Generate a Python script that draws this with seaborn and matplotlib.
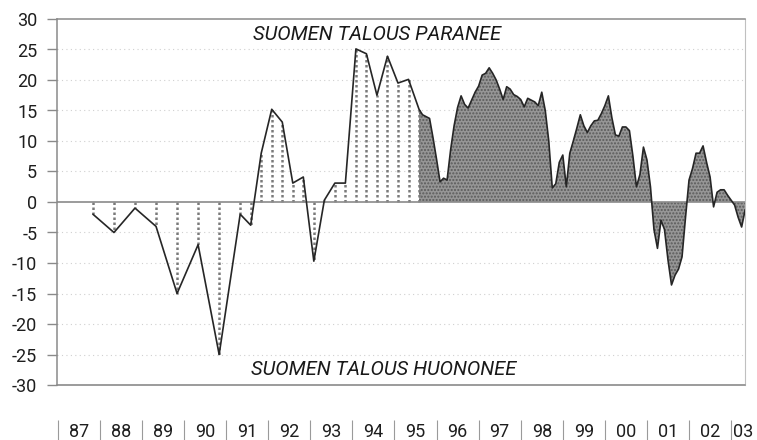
import numpy as np
import pandas as pd
import matplotlib
matplotlib.use("Agg")
import matplotlib.pyplot as plt
import seaborn as sns

# Survey months: semi-annual, then quarterly up to Aug 1995
sparse_months = [
    "1987-11", "1988-05", "1988-11", "1989-05", "1989-11", "1990-05", "1990-11",
    "1991-05", "1991-08", "1991-11", "1992-02", "1992-05", "1992-08", "1992-11",
    "1993-02", "1993-05", "1993-08", "1993-11", "1994-02", "1994-05", "1994-08",
    "1994-11", "1995-02", "1995-05", "1995-08",
]
sparse_values = [
    -2, -5, -1, -4, -15, -7, -25,
    -2, -3.8, 8, 15.2, 13.1, 3.1, 4.1,
    -9.7, 0.3, 3.1, 3.1, 25.1, 24.3, 17.5,
    23.9, 19.5, 20.1, 15.2,
]

# Monthly survey from Sep 1995 to May 2003
monthly_start = "1995-09"
monthly_values = [
    14.3, 14.0, 13.7, 10.5,
    7.0, 3.3, 3.9, 3.6, 8.5, 12.5, 15.5, 17.4, 16.0, 15.4, 16.7, 18.0,
    19.0, 20.8, 21.1, 22.0, 21.1, 20.0, 18.5, 16.8, 18.9, 18.5, 17.6, 17.3,
    16.8, 15.6, 17.0, 16.7, 16.4, 15.8, 18.0, 15.0, 10.0, 2.3, 3.0, 6.5,
    7.7, 2.5, 8.0, 10.0, 12.1, 14.3, 12.5, 11.4, 12.5, 13.3, 13.4, 14.5,
    15.8, 17.4, 13.8, 11.0, 10.8, 12.3, 12.3, 11.7, 7.5, 2.5, 4.5, 9.0,
    6.9, 2.5, -4.5, -7.6, -3.0, -4.5, -9.5, -13.6, -12.0, -11.0, -9.0, -2.5,
    3.6, 5.5, 8.0, 8.0, 9.2, 6.5, 4.1, -0.8, 1.6, 2.0, 2.0, 1.1,
    0.3, -0.5, -2.5, -4.1, -1.3,
]

year_labels = ["87", "88", "89", "90", "91", "92", "93", "94", "95",
               "96", "97", "98", "99", "00", "01", "02", "03"]
y_ticks = [30, 25, 20, 15, 10, 5, 0, -5, -10, -15, -20, -25, -30]


def to_decimal(dates):
    d = pd.to_datetime(pd.Series(dates))
    return (d.dt.year + (d.dt.month - 1) / 12).to_numpy()


t_sparse = to_decimal(sparse_months)
monthly_dates = pd.date_range(monthly_start, periods=len(monthly_values), freq="MS")
t_monthly = to_decimal(monthly_dates)

t_all = np.concatenate([t_sparse, t_monthly])
v_all = np.concatenate([sparse_values, monthly_values])

df = pd.DataFrame({"t": t_all, "v": v_all})

sns.set_style("white")
plt.rcParams["font.family"] = ["Roboto", "DejaVu Sans"]

fig = plt.figure(figsize=(7.57, 4.40), dpi=100)
ax = fig.add_axes([57 / 757, 1 - 385 / 440, (745 - 57) / 757, (385 - 19) / 440])

grey = "#8a8a8a"

# faint dotted grid
for y in [25, 20, 15, 10, 5, -5, -10, -15, -20, -25]:
    ax.axhline(y, color="#d0d0d0", lw=0.8, ls=(0, (1, 3)), zorder=0)

# shaded monthly part (starts from the last quarterly point)
fill_t = np.concatenate([[t_sparse[-1]], t_monthly])
fill_v = np.concatenate([[sparse_values[-1]], monthly_values])
ax.fill_between(fill_t, fill_v, 0, facecolor="#969696", edgecolor="#5a5a5a",
                hatch=".....", linewidth=0, zorder=1)

# dotted drop lines for the sparse surveys
ax.vlines(t_sparse, 0, sparse_values, colors="#7a7a7a", lw=1.8,
          linestyles=(0, (1, 1)), zorder=1)

ax.axhline(0, color=grey, lw=1.2, zorder=2)

sns.lineplot(data=df, x="t", y="v", color="#262626", lw=1.2, ax=ax, zorder=3)

ax.set_ylim(-30, 30)
ax.set_xlim(1986.98, 2003.33)
ax.set_yticks(y_ticks)
ax.set_yticklabels([str(y) for y in y_ticks], fontsize=13, color="#1e1e1e")
ax.tick_params(axis="y", left=True, direction="out", length=7.2, width=1,
               color=grey, pad=7)

for side in ["left", "top"]:
    ax.spines[side].set_color(grey)
    ax.spines[side].set_linewidth(1.1)
ax.spines["right"].set_color("#c0c0c0")
ax.axhline(-30, color=grey, lw=1.2, clip_on=False, zorder=4)

# year band below the plot
ax.spines["bottom"].set_position(("outward", 25))
ax.spines["bottom"].set_color("none")
ax.set_xticks(np.arange(1987, 2004))
ax.set_xticklabels([])
label_pos = list(np.arange(1987.5, 2003, 1.0)) + [2003.28]
ax.set_xticks(label_pos, minor=True)
ax.set_xticklabels(year_labels, minor=True, fontsize=13, color="#1e1e1e")
ax.tick_params(axis="x", which="major", bottom=True, direction="out", length=15,
               width=0.8, color="#9a9a9a")
ax.tick_params(axis="x", which="minor", bottom=True, length=0, pad=2)

ax.set_xlabel("")
ax.set_ylabel("")
ax.grid(False)

ax.text(1994.59, 27.4, "SUOMEN TALOUS PARANEE", fontsize=14.5, fontstyle="italic",
        ha="center", va="center", color="#1a1a1a")
ax.text(1994.75, -27.4, "SUOMEN TALOUS HUONONEE", fontsize=14.5, fontstyle="italic",
        ha="center", va="center", color="#1a1a1a")

plt.savefig("out.png", dpi=100)
plt.close()
